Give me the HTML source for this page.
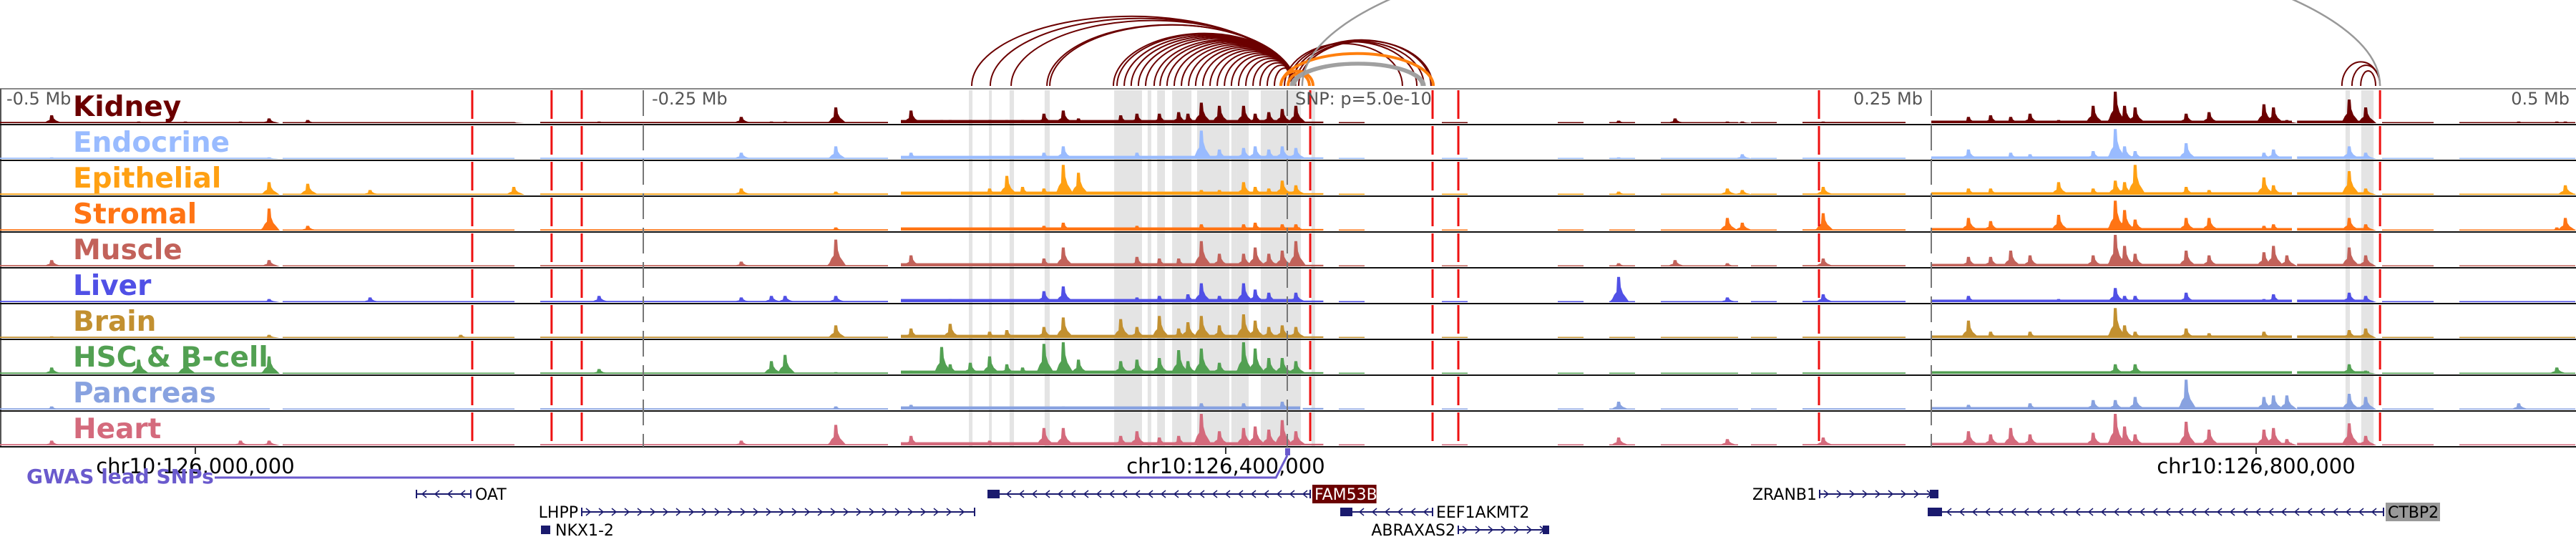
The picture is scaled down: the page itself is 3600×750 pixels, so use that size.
<!DOCTYPE html>
<html><head><meta charset="utf-8">
<style>
html,body{margin:0;padding:0;background:#fff;}
svg{display:block;font-family:"DejaVu Sans","Liberation Sans",sans-serif;}
</style></head>
<body>
<svg id="chart" width="3600" height="750" viewBox="0 0 3600 750" xmlns="http://www.w3.org/2000/svg">
<g id="bands"></g>
<g id="arcs"></g>
<g id="tracks"></g>
<g id="vlines"></g>
<g id="labels"></g>
<g id="axis"></g>
<g id="genes"></g>
</svg>
<script>
// ---- data ----
const trackNames = ["Kidney","Endocrine","Epithelial","Stromal","Muscle","Liver","Brain","HSC & B-cell","Pancreas","Heart"];
const trackColors = ["#6b0000","#99bbff","#ffa012","#ff7414","#c2625a","#5050e6","#c29030","#52a052","#88a2e0","#d46a7c"];
// peak positions in kb relative to lead SNP
const peakKb = [-479.4,-445.6,-427.5,-406.1,-395.0,-380.0,-355.8,-320.6,-300.0,-266.9,-211.7,-200.0,-194.7,-175.0,-145.8,-133.9,-130.6,-122.8,-115.3,-108.6,-102.5,-94.2,-86.7,-80.8,-64.4,-58.1,-49.4,-41.9,-38.3,-33.1,-26.1,-16.7,-12.2,-6.9,-1.7,3.6,128.9,150.8,171.1,176.9,208.3,264.7,273.3,281.1,288.6,299.7,313.1,321.7,325.3,329.4,349.2,358.1,379.4,383.1,388.3,412.5,418.9,478.3,493.1,496.4];
const kidneyVals = [.25,.05,.05,.05,.15,.1,.03,.03,.03,.05,.2,.05,.05,.5,.4,.1,.1,.1,.1,.1,.1,.3,.4,.15,.25,.3,.3,.35,.3,.65,.55,.55,.3,.35,.45,.55,.08,.15,.05,.05,.05,.2,.25,.2,.3,.1,.55,1,.55,.5,.3,.35,.6,.5,.1,.75,.5,.05,.05,.05];
const endocrineVals = [.05,0,0,0,.05,0,0,0,0,0,.2,0,0,.4,.2,0,0,0,0,0,0,.2,.4,0,0,.2,0,0,0,.9,.3,.35,.4,.3,.4,.35,.05,0,0,.15,0,.3,0,.2,.15,0,.25,.95,.4,.25,.5,0,.2,.3,0,.4,.2,0,0,0];
const epithelialVals = [0,0,0,0,.4,.35,.15,0,.25,0,.2,0,0,.1,.05,0,0,0,.2,.6,.25,.2,.95,.7,0,0,0,0,0,.15,.15,.4,.25,.2,.45,.3,.1,0,.2,.15,.25,.2,.2,0,0,.4,.2,.45,.4,.95,.25,.15,.55,.3,0,.75,.2,0,0,.3];
const stromalVals = [0,0,0,0,.7,.15,0,0,0,0,0,0,0,.1,0,0,0,0,0,0,0,.15,.25,0,0,.15,0,0,0,.2,0,.2,.25,0,.2,.2,0,0,.4,.25,.55,.4,.3,0,0,.5,0,.95,.65,.35,.4,.4,.15,.2,0,.4,.2,0,.1,.4];
const muscleVals = [.2,0,0,0,.2,0,0,0,0,0,.15,0,0,.85,.35,0,0,0,0,0,0,.25,.6,0,0,.3,.25,.25,0,.8,.4,.4,.6,.4,.5,.8,.1,.2,.1,0,.25,.3,.3,.5,.35,0,.35,1,.65,.4,.5,.35,.45,.65,.35,.6,.35,0,0,0];
const liverVals = [0,0,0,0,.1,0,.15,0,0,.2,.15,.2,.2,.2,0,0,.1,0,0,0,0,.35,.5,0,0,.15,.2,0,.25,.6,.2,.6,.4,.3,0,.3,.8,0,.15,0,.25,.2,0,0,0,.1,0,.45,.2,.2,.3,0,.1,.25,0,.3,.2,0,0,0];
const brainVals = [.05,0,0,0,.1,0,0,.1,0,0,0,0,0,.4,.3,0,.45,0,.2,.25,0,.35,.65,0,.6,.35,.7,.3,.5,.7,.4,.75,.55,.35,.4,.35,0,0,0,0,0,.55,.2,0,.2,0,0,.95,.4,.2,.3,.15,.2,0,0,.25,.3,0,0,0];
const hscVals = [.2,.45,.45,0,.55,0,0,0,0,.15,0,.4,.6,.05,.1,.85,.3,.35,.55,.3,.2,.95,1,.45,.4,.45,.5,.75,.4,.8,.35,1,.8,.5,.5,.4,0,0,0,0,0,0,0,0,0,0,0,.3,0,.3,0,0,0,0,0,.3,.1,0,.2,0];
const pancreasVals = [.1,0,0,0,0,0,0,0,0,0,0,0,0,.1,.15,0,0,0,0,0,0,0,.1,0,0,0,0,0,0,.2,0,.2,0,0,.25,0,.25,0,0,0,0,.15,0,0,.2,0,.3,.3,0,.4,.95,0,.4,.45,.45,.5,.4,.2,0,0];
const heartVals = [.15,0,0,.15,.15,0,0,0,0,0,.15,0,0,.65,.3,0,0,0,.15,0,0,.55,.55,0,.3,.45,.25,.3,0,1,.45,.55,.6,.5,.8,.45,.25,0,.2,0,.25,.45,.35,.55,.35,0,.4,1,.6,.35,.75,.5,.5,.55,.2,.7,.3,0,0,0];
const trackValues = [kidneyVals,endocrineVals,epithelialVals,stromalVals,muscleVals,liverVals,brainVals,hscVals,pancreasVals,heartVals];
// background signal segments (kb) and relative level
const bgStartKb = [-500,-390,-290,-150,6,20,60,105,125,145,180,200,250,392,425,455];
const bgEndKb   = [-395,-300,-155,5,14,30,70,115,135,175,190,240,390,420,445,500];
const bgLevel   = [.04,.03,.04,.1,.05,.02,.02,.02,.03,.03,.03,.04,.08,.08,.03,.03];
// highlighted regions (kb start, kb end)
const bandStartKb = [-123.6,-115.8,-107.8,-94.2,-67.2,-61.1,-54.2,-50.5,-44.7,-35.0,-21.7,-21.1,-19.7,-10.3,-9.4,-6.9,-7.2,9.4,410.8,416.9];
const bandEndKb   = [-122.2,-114.7,-106.1,-92.2,-60.8,-56.4,-52.8,-47.5,-37.2,-22.5,-20.8,-19.7,-15.0,-5.8,-7.5,-6.5,5.3,10.8,412.5,421.7];
// marker lines (kb)
const redLineKb = [-316.4,-285.6,-273.9,8.9,56.4,66.4,206.4,424.2];
const mbLineKb = [-250,0,250];
const mbLabelKb = [-500,-250,250,500];
const mbLabels = ["-0.5 Mb","-0.25 Mb","0.25 Mb","0.5 Mb"];
// axis ticks (genomic position)
const snpPos = 126423900;
const axisTicks = [126000000,126400000,126800000];
const axisLabels = ["chr10:126,000,000","chr10:126,400,000","chr10:126,800,000"];
// interaction arcs (kb) and kind
const arcStartKb = [-122.5,-115.3,-107.2,-93.3,-92.2,-67.5,-66.1,-63.3,-60.6,-57.8,-55.0,-51.7,-49.4,-46.7,-43.9,-41.1,-38.3,-35.6,-32.8,-30.0,-27.2,-24.4,-21.7,-18.9,-16.1,-13.3,-10.6,-7.8,-5.0,-1.1,0.3,1.7,3.1,4.4,409.4,413.3,416.7,-2.5,-2.5,0.3,1.7,2.5,5.8];
const arcEndKb   = [1.7,1.7,2.5,2.5,3.1,3.1,3.1,3.1,3.1,3.1,3.1,3.1,3.1,3.1,3.1,3.1,3.1,3.1,3.1,3.1,3.1,3.1,3.1,3.1,3.1,3.1,3.1,3.1,3.1,44.7,50.3,55.8,53.1,56.4,424.2,424.2,422.5,56.7,10.0,8.6,53.1,52.5,424.2];
const arcKind    = ["r","r","r","r","r","r","r","r","r","r","r","r","r","r","r","r","r","r","r","r","r","r","r","r","r","r","r","r","r","r","r","r","r","r","r","r","r","o","o","o","g","g","G"];

// ---- helpers ----
const NS="http://www.w3.org/2000/svg";
const X0=1799, PXKB=3.6;
const xOf = kb => X0 + kb*PXKB;
const xGen = pos => xOf((pos - snpPos)/1000);
const TOP=124, TH=50, MAXH=44;
function mk(tag, attrs, parent, text){
  const e=document.createElementNS(NS,tag);
  for(const k in attrs) e.setAttribute(k,attrs[k]);
  if(text!==undefined) e.textContent=text;
  parent.appendChild(e); return e;
}
const gBands=document.getElementById('bands'), gArcs=document.getElementById('arcs'),
 gTracks=document.getElementById('tracks'), gV=document.getElementById('vlines'),
 gL=document.getElementById('labels'), gAx=document.getElementById('axis'), gG=document.getElementById('genes');

// bands
bandStartKb.forEach((s,i)=>{
  const x1=xOf(s), x2=xOf(bandEndKb[i]);
  const r=mk('rect',{x:x1,y:TOP+2,width:Math.max(2,x2-x1),height:TH*10-2,fill:'#e4e4e4'},gBands);
  
  
});

// arcs
const arcCol={r:'#6b0000',o:'#ff7f0e',g:'#a0a0a0',G:'#999999'};
const arcK={r:4.6,o:3.1,g:2.3,G:5.7};
const arcW={r:2,o:4,g:5,G:2.5};
const ARCBASE=120;
arcStartKb.forEach((s,i)=>{
  const x1=xOf(s), x2=xOf(arcEndKb[i]); const k=arcKind[i];
  const rx=(x2-x1)/2, ry=arcK[k]*Math.sqrt(Math.abs(x2-x1));
  const p=mk('path',{d:`M${x1},${ARCBASE} A${rx},${ry} 0 0 1 ${x2},${ARCBASE}`,fill:'none',stroke:arcCol[k],'stroke-width':arcW[k]},gArcs);
  
  
});

// tracks
mk('line',{x1:0,y1:TOP,x2:3600,y2:TOP,stroke:'#888','stroke-width':2},gTracks);
mk('line',{x1:1,y1:TOP,x2:1,y2:TOP+TH*10,stroke:'#555','stroke-width':2},gTracks);
trackNames.forEach((name,t)=>{
  const g=mk('g',{},gTracks);
  
  
  const base=TOP+(t+1)*TH-2, col=trackColors[t];
  bgStartKb.forEach((s,i)=>{
    const x1=xOf(s), x2=xOf(bgEndKb[i]), h=Math.max(1.5,bgLevel[i]*MAXH);
    mk('rect',{x:x1,y:base-h,width:x2-x1,height:h,fill:col},g);
  });
  trackValues[t].forEach((v,i)=>{
    if(v<=0) return;
    const x=xOf(peakKb[i]), h=v*MAXH;
    const pts=[[x-14,base],[x-10,base-0.12*h],[x-7,base-0.3*h],[x-4,base-0.4*h],[x-3,base-h],[x+1,base-h],[x+2,base-0.6*h],[x+5,base-0.35*h],[x+9,base-0.2*h],[x+14,base]];
    const p=mk('polygon',{points:pts.map(q=>q.join(',')).join(' '),fill:col},g);
    
    
  });
  mk('line',{x1:0,y1:TOP+(t+1)*TH,x2:3600,y2:TOP+(t+1)*TH,stroke:'#111','stroke-width':2},g);
  const lb=mk('text',{x:102,y:TOP+t*TH+38,'font-size':39,'font-weight':'bold',fill:col},gL,name);
  
  
});

// vertical marker lines
mbLineKb.forEach(kb=>{
  const l=mk('line',{x1:xOf(kb),y1:TOP+2,x2:xOf(kb),y2:TOP+TH*10,stroke:'#777','stroke-width':2,'stroke-dasharray':'36 12'},gV);
  
  
});
redLineKb.forEach(kb=>{
  const l=mk('line',{x1:xOf(kb),y1:TOP+2,x2:xOf(kb),y2:TOP+TH*10,stroke:'#ee1111','stroke-width':3,'stroke-dasharray':'40 10'},gV);
  
  
});
mbLabelKb.forEach((kb,i)=>{
  let x, anchor='start';
  if(kb<-400){x=9;}
  else if(kb>400){x=3591;anchor='end';}
  else if(kb<0){x=xOf(kb)+12;}
  else {x=xOf(kb)-12;anchor='end';}
  const t=mk('text',{x:x,y:146,'font-size':24,fill:'#555','text-anchor':anchor},gL,mbLabels[i]);
  
  
});
const snpT=mk('text',{x:1810,y:146,'font-size':24,fill:'#555'},gL,'SNP: p=5.0e-10');



// axis
axisTicks.forEach((p,i)=>{
  const x=xGen(p);
  mk('line',{x1:x,y1:TOP+TH*10,x2:x,y2:TOP+TH*10+10,stroke:'#333','stroke-width':2},gAx);
  const t=mk('text',{x:x,y:661,'font-size':29,'text-anchor':'middle',fill:'#000'},gAx,axisLabels[i]);
  
  
});

// GWAS
const gw=mk('path',{d:`M300,667 L${xOf(-4.4)},667 L${xOf(0)},636`,fill:'none',stroke:'#6a5acd','stroke-width':3},gG);


const snpM=mk('rect',{x:xOf(0)-3,y:626,width:7,height:10,fill:'#6a5acd'},gG);


const gwT=mk('text',{x:37,y:675,'font-size':28,'font-weight':'bold',fill:'#6a5acd'},gG,'GWAS lead SNPs');



function gene(name,x1,x2,y,dir,boxes,lx,anchor,bg,fg){
  const g=mk('g',{},gG);
  
  
  mk('line',{x1:x1,y1:y,x2:x2,y2:y,stroke:'#1a1a6e','stroke-width':2},g);
  for(let x=x1+10;x<x2-6;x+=18){
    const d = dir>0?`M${x-4},${y-5} L${x+2},${y} L${x-4},${y+5}`:`M${x+4},${y-5} L${x-2},${y} L${x+4},${y+5}`;
    mk('path',{d:d,fill:'none',stroke:'#1a1a6e','stroke-width':1.5},g);
  }
  mk('line',{x1:x1,y1:y-6,x2:x1,y2:y+6,stroke:'#1a1a6e','stroke-width':2},g);
  mk('line',{x1:x2,y1:y-6,x2:x2,y2:y+6,stroke:'#1a1a6e','stroke-width':2},g);
  boxes.forEach(b=>mk('rect',{x:b[0],y:y-6,width:b[1]-b[0],height:12,fill:'#1a1a6e'},g));
  if(bg){
    const w=name.length*13.6+8;
    const bx = anchor==='start'?lx-3:lx-w+3;
    mk('rect',{x:bx,y:y-13,width:w,height:26,fill:bg},g);
  }
  mk('text',{x:lx,y:y+8,'font-size':22,'text-anchor':anchor,fill:fg||'#000'},g,name);
}
gene('OAT',582,658,690,-1,[],664,'start');
gene('LHPP',813,1362,715,1,[],808,'end');
gene('NKX1-2',757,768,740,1,[[757,767]],776,'start');
gene('FAM53B',1381,1831,690,-1,[[1381,1397]],1837,'start','#6b0000','#fff');
gene('EEF1AKMT2',1874,2002,715,-1,[[1874,1890]],2007,'start');
gene('ABRAXAS2',2038,2164,740,1,[[2156,2164]],2034,'end');
gene('ZRANB1',2543,2708,690,1,[[2697,2708]],2539,'end');
gene('CTBP2',2695,3331,715,-1,[[2695,2714]],3337,'start','#999','#000');
</script>
</body></html>
